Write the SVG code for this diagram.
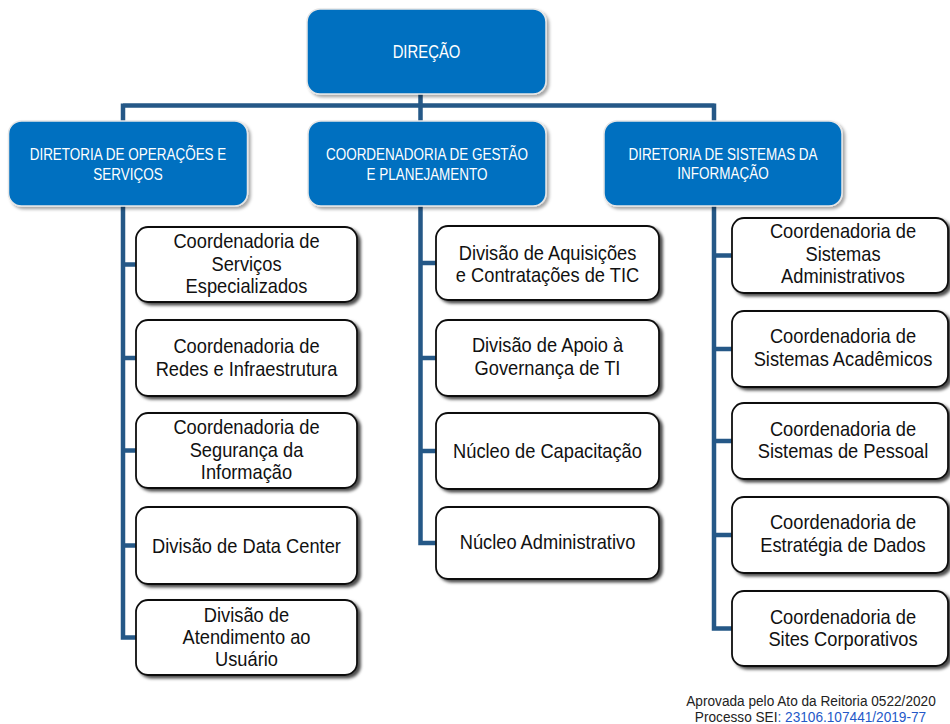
<svg xmlns="http://www.w3.org/2000/svg" width="950" height="724" viewBox="0 0 950 724">
<style>
.blue{fill:#0070C0;stroke:#E6E6E6;stroke-width:1.5;filter:url(#sb)}
.white{fill:#fff;stroke:#111;stroke-width:1.8;filter:url(#sw)}
.bt{font-family:"Liberation Sans",Arial,sans-serif;font-size:16px;fill:#fff;text-anchor:middle}
.wt{font-family:"Liberation Sans",Arial,sans-serif;font-size:21px;fill:#111;text-anchor:middle}
.conn{fill:none;stroke:#255887;stroke-width:4.5;stroke-linejoin:miter}
.foot{font-family:"Liberation Sans",Arial,sans-serif;font-size:15px;fill:#222;text-anchor:middle}
</style>
<defs>
<filter id="sb" x="-10%" y="-10%" width="125%" height="130%"><feDropShadow dx="2.5" dy="2.5" stdDeviation="1.8" flood-color="#000" flood-opacity="0.35"/></filter>
<filter id="sw" x="-10%" y="-10%" width="125%" height="130%"><feDropShadow dx="3" dy="2.5" stdDeviation="1.6" flood-color="#000" flood-opacity="0.7"/></filter>
</defs>
<rect width="950" height="724" fill="#fff"/>
<g id="connectors">
<path class="conn" d="M420.5 94 V121 M123 105.5 H714.5 M123 103.5 V121 M714 103.5 V121"/>
<path class="conn" d="M123 206 V637.5 H136 M123 264.5 H136 M123 358 H136 M123 450.5 H136 M123 545.5 H136"/>
<path class="conn" d="M420.5 206 V543 H436 M420.5 263 H436 M420.5 358 H436 M420.5 451 H436"/>
<path class="conn" d="M714 206 V628.5 H732 M714 255.5 H732 M714 349 H732 M714 441 H732 M714 535 H732"/>
</g>
<g id="direcao"><rect class="blue" x="307" y="9" width="239" height="85" rx="13"/>
<text class="bt" style="font-size:17.5px" transform="translate(426.5 0) scale(0.85 1)" x="0" y="58">DIREÇÃO</text></g>
<g id="dir-operacoes"><rect class="blue" x="8.5" y="121" width="239" height="85" rx="13"/>
<text class="bt" transform="translate(128 0) scale(0.843 1)"><tspan x="0" y="160">DIRETORIA DE OPERAÇÕES E</tspan><tspan x="0" y="180">SERVIÇOS</tspan></text></g>
<g id="coord-gestao"><rect class="blue" x="308" y="121" width="238" height="85" rx="13"/>
<text class="bt" transform="translate(427 0) scale(0.843 1)"><tspan x="0" y="160">COORDENADORIA DE GESTÃO</tspan><tspan x="0" y="180">E PLANEJAMENTO</tspan></text></g>
<g id="dir-sistemas"><rect class="blue" x="604" y="121" width="238" height="85" rx="13"/>
<text class="bt" transform="translate(723 0) scale(0.843 1)"><tspan x="0" y="160">DIRETORIA DE SISTEMAS DA</tspan><tspan x="0" y="179">INFORMAÇÃO</tspan></text></g>

<g id="l1"><rect class="white" x="136" y="227" width="221" height="75" rx="12"/>
<text class="wt" transform="translate(246.5 0) scale(0.87 1)"><tspan x="0" y="248">Coordenadoria de</tspan><tspan x="0" y="271">Serviços</tspan><tspan x="0" y="293">Especializados</tspan></text></g>
<g id="l2"><rect class="white" x="136" y="320" width="221" height="76" rx="12"/>
<text class="wt" transform="translate(246.5 0) scale(0.87 1)"><tspan x="0" y="353">Coordenadoria de</tspan><tspan x="0" y="376">Redes e Infraestrutura</tspan></text></g>
<g id="l3"><rect class="white" x="136" y="413" width="221" height="75" rx="12"/>
<text class="wt" transform="translate(246.5 0) scale(0.87 1)"><tspan x="0" y="434">Coordenadoria de</tspan><tspan x="0" y="457">Segurança da</tspan><tspan x="0" y="479">Informação</tspan></text></g>
<g id="l4"><rect class="white" x="136" y="507" width="221" height="77" rx="12"/>
<text class="wt" transform="translate(246.5 0) scale(0.87 1)" x="0" y="553">Divisão de Data Center</text></g>
<g id="l5"><rect class="white" x="136" y="600" width="221" height="75" rx="12"/>
<text class="wt" transform="translate(246.5 0) scale(0.87 1)"><tspan x="0" y="622">Divisão de</tspan><tspan x="0" y="644">Atendimento ao</tspan><tspan x="0" y="666">Usuário</tspan></text></g>

<g id="m1"><rect class="white" x="436" y="226" width="223" height="74" rx="12"/>
<text class="wt" transform="translate(547.5 0) scale(0.87 1)"><tspan x="0" y="260">Divisão de Aquisições</tspan><tspan x="0" y="282">e Contratações de TIC</tspan></text></g>
<g id="m2"><rect class="white" x="436" y="320" width="223" height="76" rx="12"/>
<text class="wt" transform="translate(547.5 0) scale(0.87 1)"><tspan x="0" y="352">Divisão de Apoio à</tspan><tspan x="0" y="375">Governança de TI</tspan></text></g>
<g id="m3"><rect class="white" x="436" y="413" width="223" height="76" rx="12"/>
<text class="wt" transform="translate(547.5 0) scale(0.87 1)" x="0" y="458">Núcleo de Capacitação</text></g>
<g id="m4"><rect class="white" x="436" y="507" width="223" height="72" rx="12"/>
<text class="wt" transform="translate(547.5 0) scale(0.87 1)" x="0" y="549">Núcleo Administrativo</text></g>

<g id="r1"><rect class="white" x="732" y="218" width="216" height="75" rx="12"/>
<text class="wt" transform="translate(843 0) scale(0.87 1)"><tspan x="0" y="238">Coordenadoria de</tspan><tspan x="0" y="261">Sistemas</tspan><tspan x="0" y="283">Administrativos</tspan></text></g>
<g id="r2"><rect class="white" x="732" y="311" width="216" height="76" rx="12"/>
<text class="wt" transform="translate(843 0) scale(0.87 1)"><tspan x="0" y="343">Coordenadoria de</tspan><tspan x="0" y="366">Sistemas Acadêmicos</tspan></text></g>
<g id="r3"><rect class="white" x="732" y="403" width="216" height="76" rx="12"/>
<text class="wt" transform="translate(843 0) scale(0.87 1)"><tspan x="0" y="436">Coordenadoria de</tspan><tspan x="0" y="458">Sistemas de Pessoal</tspan></text></g>
<g id="r4"><rect class="white" x="732" y="497" width="216" height="76" rx="12"/>
<text class="wt" transform="translate(843 0) scale(0.87 1)"><tspan x="0" y="529">Coordenadoria de</tspan><tspan x="0" y="552">Estratégia de Dados</tspan></text></g>
<g id="r5"><rect class="white" x="732" y="591" width="216" height="75" rx="12"/>
<text class="wt" transform="translate(843 0) scale(0.87 1)"><tspan x="0" y="624">Coordenadoria de</tspan><tspan x="0" y="646">Sites Corporativos</tspan></text></g>

<g id="footer">
<text class="foot" transform="translate(811 0) scale(0.91 1)" x="0" y="706">Aprovada pelo Ato da Reitoria 0522/2020</text>
<text class="foot" transform="translate(810.5 0) scale(0.91 1)" x="0" y="722">Processo SEI<tspan fill="#2458C8">: 23106.107441/2019-77</tspan></text>
</g>
</svg>
